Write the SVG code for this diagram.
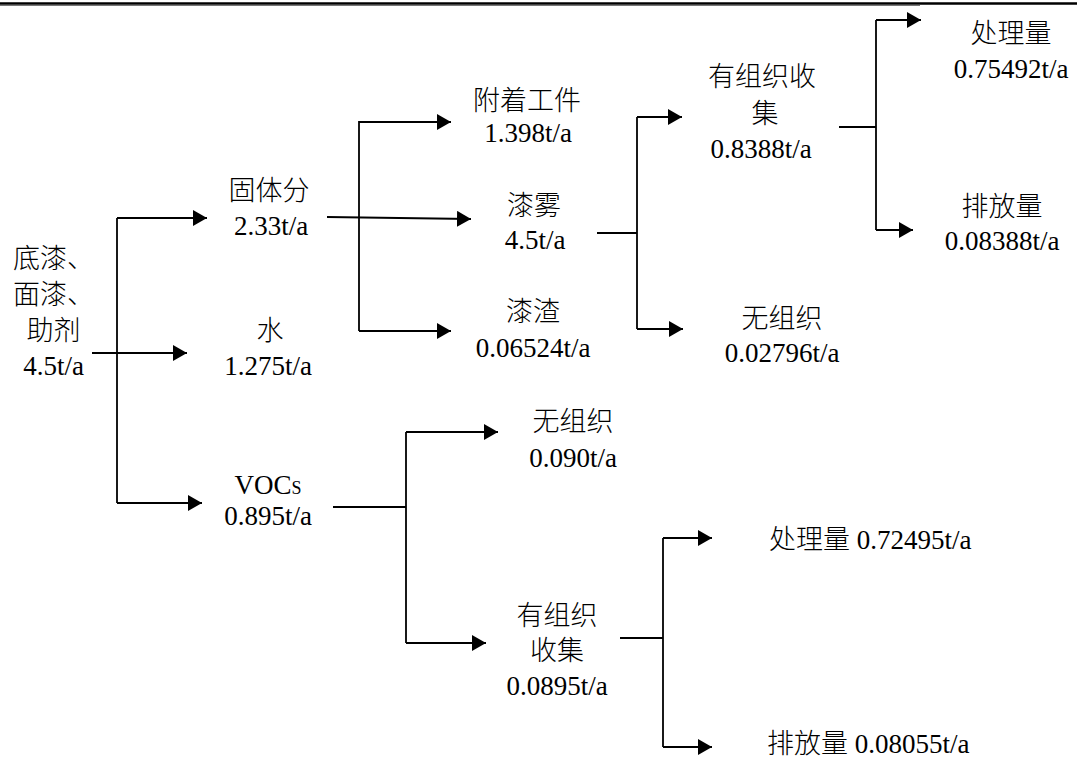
<svg xmlns="http://www.w3.org/2000/svg" width="1077" height="760" viewBox="0 0 1077 760">
<style>
.t{font-family:"Liberation Serif","Noto Sans CJK SC",serif;font-size:27px;fill:#000;text-anchor:middle}
.k{font-weight:300}
.l{text-anchor:start}
.c{fill:none;stroke:#000;stroke-width:1.8}
</style>
<defs>
<marker id="ah" markerUnits="userSpaceOnUse" markerWidth="15" markerHeight="16" refX="14" refY="8" orient="auto">
<path d="M0,0 L14,8 L0,16 z" fill="#000"/>
</marker>
</defs>
<rect width="1077" height="760" fill="#fff"/>
<line x1="0" y1="3.5" x2="1077" y2="3.5" stroke="#000" stroke-width="2.5"/>
<line x1="0" y1="5.5" x2="920" y2="5.5" stroke="#777" stroke-width="1"/>
<g id="connectors">
<path class="c" d="M92,353 H187" marker-end="url(#ah)"/>
<path class="c" d="M117,218 V503"/>
<path class="c" d="M117,218 H207" marker-end="url(#ah)"/>
<path class="c" d="M117,503 H202" marker-end="url(#ah)"/>
<path class="c" d="M327,217 L471,219" marker-end="url(#ah)"/>
<path class="c" d="M359,121 V331"/>
<path class="c" d="M359,122 H451" marker-end="url(#ah)"/>
<path class="c" d="M359,331 H451" marker-end="url(#ah)"/>
<path class="c" d="M597,233 H637"/>
<path class="c" d="M637,117 V329"/>
<path class="c" d="M637,117 H682" marker-end="url(#ah)"/>
<path class="c" d="M637,329 H683" marker-end="url(#ah)"/>
<path class="c" d="M839,127 H876"/>
<path class="c" d="M876,20 V230"/>
<path class="c" d="M876,20 H921" marker-end="url(#ah)"/>
<path class="c" d="M876,230 H913" marker-end="url(#ah)"/>
<path class="c" d="M333,507 H406"/>
<path class="c" d="M406,432 V643"/>
<path class="c" d="M406,432 H498" marker-end="url(#ah)"/>
<path class="c" d="M406,643 H486" marker-end="url(#ah)"/>
<path class="c" d="M620,638 H663"/>
<path class="c" d="M663,538 V747"/>
<path class="c" d="M663,538 H712" marker-end="url(#ah)"/>
<path class="c" d="M663,747 H712" marker-end="url(#ah)"/>
</g>
<g id="root">
<text class="t k" x="53.5" y="268">底漆、</text>
<text class="t k" x="53.5" y="304">面漆、</text>
<text class="t k" x="53.5" y="340">助剂</text>
<text class="t" x="53.5" y="375">4.5t/a</text>
</g>
<g id="solid">
<text class="t k" x="269" y="200">固体分</text>
<text class="t" x="271" y="235">2.33t/a</text>
</g>
<g id="water">
<text class="t k" x="270" y="340">水</text>
<text class="t" x="268" y="375">1.275t/a</text>
</g>
<g id="vocs">
<text class="t" x="268" y="494">VOC<tspan font-size="18">S</tspan></text>
<text class="t" x="268" y="525">0.895t/a</text>
</g>
<g id="workpiece">
<text class="t k" x="527" y="110">附着工件</text>
<text class="t" x="528" y="142">1.398t/a</text>
</g>
<g id="mist">
<text class="t k" x="534" y="215">漆雾</text>
<text class="t" x="535" y="249">4.5t/a</text>
</g>
<g id="residue">
<text class="t k" x="533" y="321">漆渣</text>
<text class="t" x="533" y="357">0.06524t/a</text>
</g>
<g id="organized1">
<text class="t k" x="762" y="86">有组织收</text>
<text class="t k" x="765" y="123">集</text>
<text class="t" x="761" y="158">0.8388t/a</text>
</g>
<g id="treated1">
<text class="t k" x="1011" y="43">处理量</text>
<text class="t" x="1011" y="78">0.75492t/a</text>
</g>
<g id="emitted1">
<text class="t k" x="1002" y="216">排放量</text>
<text class="t" x="1002" y="250">0.08388t/a</text>
</g>
<g id="fugitive1">
<text class="t k" x="782" y="328">无组织</text>
<text class="t" x="782" y="362">0.02796t/a</text>
</g>
<g id="fugitive2">
<text class="t k" x="573" y="431">无组织</text>
<text class="t" x="573" y="467">0.090t/a</text>
</g>
<g id="organized2">
<text class="t k" x="557" y="625">有组织</text>
<text class="t k" x="557" y="660">收集</text>
<text class="t" x="557" y="695">0.0895t/a</text>
</g>
<g id="treated2">
<text class="t l" x="769" y="549"><tspan class="k">处理量</tspan> 0.72495t/a</text>
</g>
<g id="emitted2">
<text class="t l" x="767" y="753"><tspan class="k">排放量</tspan> 0.08055t/a</text>
</g>
</svg>
